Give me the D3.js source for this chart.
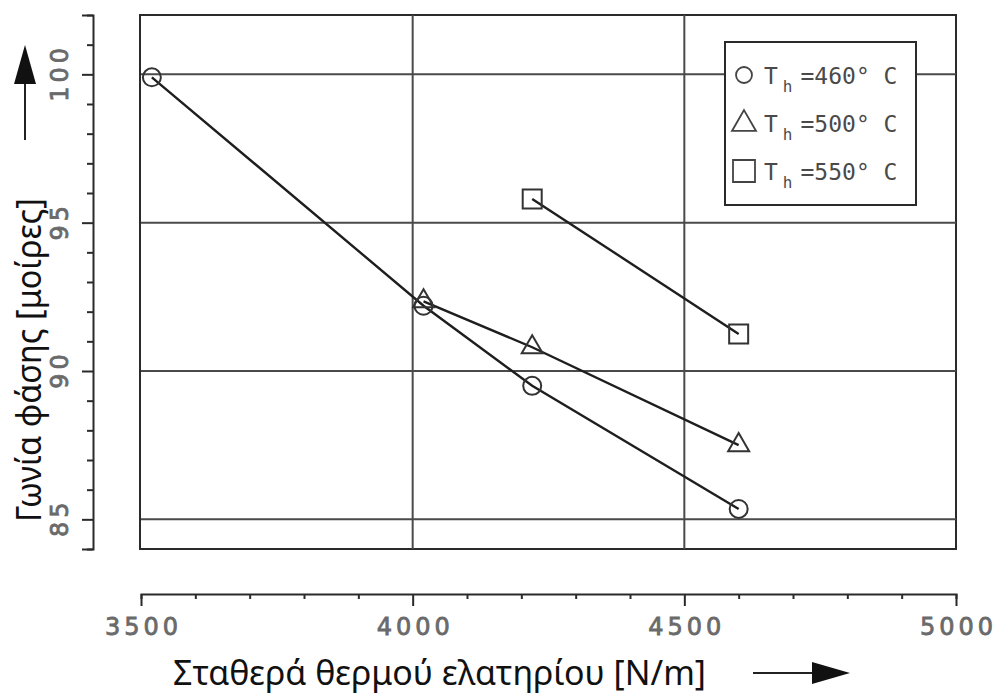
<!DOCTYPE html>
<html>
<head>
<meta charset="utf-8">
<script src="https://cdn.jsdelivr.net/npm/d3@7/dist/d3.min.js"></script>
<style>
  body { margin: 0; background: #fff; }
  svg { display: block; }
</style>
</head>
<body>
<svg id="chart" width="1001" height="695"></svg>
<script>
// Measured phase angle vs. spring constant for three hot-end temperatures
const springX460 = [3520, 4020, 4220, 4600];
const phase460   = [99.9, 92.2, 89.5, 85.35];
const springX500 = [4020, 4220, 4600];
const phase500   = [92.35, 90.8, 87.5];
const springX550 = [4220, 4600];
const phase550   = [95.8, 91.25];

const seriesTemps  = ["=460° C", "=500° C", "=550° C"];
const seriesShapes = ["circle", "triangle", "square"];

const xTickLabels = [3500, 4000, 4500, 5000];
const yTickLabels = [85, 90, 95, 100];
const xMinorTicks = d3.range(3500, 5001, 100);
const yMinorTicks = d3.range(84, 103, 1);

const xTitle = "Σταθερά θερμού ελατηρίου [N/m]";
const yTitle = "Γωνία φάσης [μοίρες]";

const ink = "#2a2a2a";
const gridInk = "#4a4a4a";
const labelInk = "#6a6a6a";

const svg = d3.select("#chart");

const x = d3.scaleLinear().domain([3500, 5000]).range([141, 956]);
const y = d3.scaleLinear().domain([84, 102]).range([549, 15]);

// symbol generators (plot markers and legend keys)
const symbolType = { circle: d3.symbolCircle, triangle: d3.symbolTriangle, square: d3.symbolSquare };
const markerSize = { circle: Math.PI * 9 * 9, triangle: Math.sqrt(3) / 4 * 21 * 21, square: 19 * 19 };
const legendSize = { circle: Math.PI * 8 * 8, triangle: Math.sqrt(3) / 4 * 24 * 24, square: 22 * 22 };

// ---- plot frame and grid ----
const plot = svg.append("g");
plot.append("rect")
  .attr("x", x(3500) - 1).attr("y", y(102))
  .attr("width", x(5000) - x(3500) + 1).attr("height", y(84) - y(102))
  .attr("fill", "none").attr("stroke", ink).attr("stroke-width", 2);

plot.selectAll("line.hgrid").data(yTickLabels).join("line")
  .attr("class", "hgrid")
  .attr("x1", x(3500)).attr("x2", x(5000))
  .attr("y1", d => y(d)).attr("y2", d => y(d))
  .attr("stroke", gridInk).attr("stroke-width", 2);

plot.selectAll("line.vgrid").data(xTickLabels.filter(d => d > 3500 && d < 5000)).join("line")
  .attr("class", "vgrid")
  .attr("x1", d => x(d)).attr("x2", d => x(d))
  .attr("y1", y(102)).attr("y2", y(84))
  .attr("stroke", gridInk).attr("stroke-width", 2);

// ---- data series ----
const series = [
  { xs: springX460, ys: phase460, shape: seriesShapes[0] },
  { xs: springX500, ys: phase500, shape: seriesShapes[1] },
  { xs: springX550, ys: phase550, shape: seriesShapes[2] }
];

const line = d3.line().x(d => x(d[0])).y(d => y(d[1]));

series.forEach(s => {
  const pts = s.xs.map((v, i) => [v, s.ys[i]]);
  plot.append("path")
    .attr("d", line(pts))
    .attr("fill", "none").attr("stroke", "#1e1e1e").attr("stroke-width", 2.4);
  plot.selectAll(null).data(pts).join("path")
    .attr("transform", d => `translate(${x(d[0])},${y(d[1])})`)
    .attr("d", d3.symbol(symbolType[s.shape], markerSize[s.shape]))
    .attr("fill", "none").attr("stroke", "#333").attr("stroke-width", 2);
});

// ---- legend ----
const legend = svg.append("g");
legend.append("rect")
  .attr("x", 725).attr("y", 42).attr("width", 191).attr("height", 163)
  .attr("fill", "#fff").attr("stroke", ink).attr("stroke-width", 2);

seriesTemps.forEach((t, i) => {
  const base = 84 + i * 48;
  const shape = seriesShapes[i];
  legend.append("path")
    .attr("transform", `translate(${744},${base - 9 + (shape === "triangle" ? 1 : 0)})`)
    .attr("d", d3.symbol(symbolType[shape], legendSize[shape]))
    .attr("fill", "none").attr("stroke", "#444").attr("stroke-width", 1.8);
  const txt = legend.append("text")
    .attr("x", 764).attr("y", base)
    .attr("font-family", "DejaVu Sans Mono").attr("font-size", 23)
    .attr("fill", "#4a4a4a");
  txt.append("tspan").text("T");
  txt.append("tspan").attr("dx", 5).attr("dy", 8).attr("font-size", 16).text("h");
  txt.append("tspan").attr("dx", 8).attr("dy", -8).text(t);
});

// ---- bottom axis (detached) ----
const xAxisG = svg.append("g").attr("transform", "translate(0,594)")
  .call(d3.axisBottom(x).tickValues(xMinorTicks).tickSizeOuter(0).tickSize(5)
    .tickFormat(d => xTickLabels.includes(d) ? d : ""));
xAxisG.select(".domain").attr("stroke", ink).attr("stroke-width", 2);
xAxisG.selectAll(".tick line")
  .attr("stroke", ink).attr("stroke-width", 2)
  .attr("y2", d => xTickLabels.includes(d) ? 12 : 5);
xAxisG.selectAll(".tick text")
  .attr("y", 24).attr("dy", "0.71em")
  .attr("font-family", "DejaVu Sans").attr("font-size", 24)
  .attr("letter-spacing", 4).attr("dx", 2)
  .attr("fill", labelInk).attr("stroke", labelInk).attr("stroke-width", 0.8);

// ---- left axis (detached) ----
const yAxisG = svg.append("g").attr("transform", "translate(93,0)")
  .call(d3.axisLeft(y).tickValues(yMinorTicks).tickSizeOuter(0).tickSize(6)
    .tickFormat(d => yTickLabels.includes(d) ? d : ""));
yAxisG.select(".domain").attr("stroke", ink).attr("stroke-width", 2);
yAxisG.selectAll(".tick line")
  .attr("stroke", ink).attr("stroke-width", 2)
  .attr("x2", d => (yTickLabels.includes(d) || d === 84 || d === 102) ? -11 : -6);
yAxisG.selectAll(".tick text")
  .attr("transform", "rotate(-90)")
  .attr("x", 2).attr("y", -25).attr("dy", 0)
  .attr("text-anchor", "middle")
  .attr("font-family", "DejaVu Sans").attr("font-size", 24)
  .attr("letter-spacing", 4)
  .attr("fill", labelInk).attr("stroke", labelInk).attr("stroke-width", 0.8);
svg.selectAll(".tick").attr("font-size", null);

// ---- axis titles ----
svg.append("text")
  .attr("x", 173).attr("y", 685)
  .attr("font-family", "Noto Sans").attr("font-size", 34)
  .attr("textLength", 533).attr("lengthAdjust", "spacingAndGlyphs")
  .attr("fill", "#111").text(xTitle);

svg.append("text")
  .attr("transform", "translate(41,522) rotate(-90)")
  .attr("font-family", "Noto Sans").attr("font-size", 35)
  .attr("textLength", 324).attr("lengthAdjust", "spacingAndGlyphs")
  .attr("fill", "#111").text(yTitle);

// ---- direction arrows next to the titles ----
svg.append("line").attr("x1", 753).attr("x2", 816).attr("y1", 673).attr("y2", 673)
  .attr("stroke", "#222").attr("stroke-width", 2);
svg.append("path").attr("d", "M812,662 L850,673 L812,684 Z").attr("fill", "#111");

svg.append("line").attr("x1", 25).attr("x2", 25).attr("y1", 80).attr("y2", 140)
  .attr("stroke", "#222").attr("stroke-width", 2);
svg.append("path").attr("d", "M14,84 L25,45 L36,84 Z").attr("fill", "#111");
</script>
</body>
</html>
